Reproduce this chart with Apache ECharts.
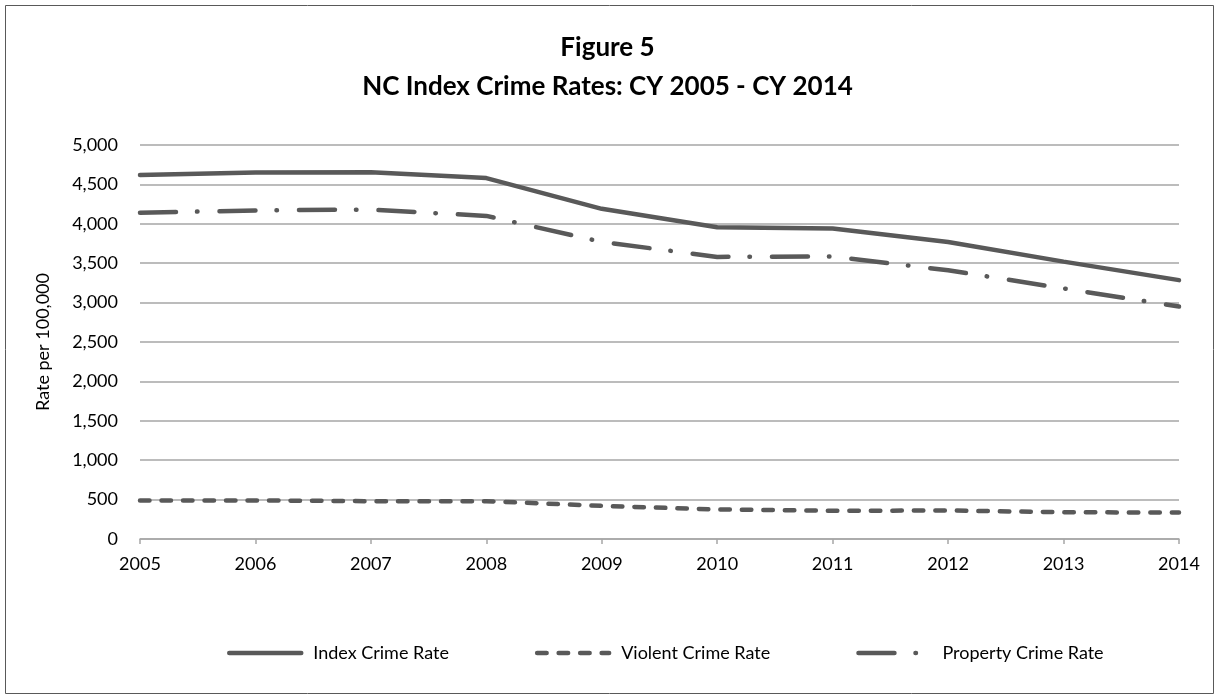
<!DOCTYPE html>
<html>
<head>
<meta charset="utf-8">
<script src="https://cdn.jsdelivr.net/npm/echarts@6/dist/echarts.min.js"></script>
<style>
html,body{margin:0;padding:0;background:#fff;}
#chart{width:1215px;height:695px;}
</style>
</head>
<body>
<div id="chart"></div>
<script>
const years = ['2005','2006','2007','2008','2009','2010','2011','2012','2013','2014'];
const indexCrimeRate = [4620, 4650, 4655, 4580, 4190, 3955, 3940, 3770, 3520, 3285];
const violentCrimeRate = [488, 490, 480, 480, 420, 375, 358, 362, 340, 335];
const propertyCrimeRate = [4140, 4170, 4180, 4100, 3770, 3580, 3585, 3410, 3180, 2950];
const yTicks = [0, 500, 1000, 1500, 2000, 2500, 3000, 3500, 4000, 4500, 5000];

const FONT = 'Lato, "Open Sans", sans-serif';
const LINE = '#595959';
const chart = echarts.init(document.getElementById('chart'));
chart.setOption({
  backgroundColor: '#fff',
  animation: false,
  graphic: [{
    type: 'rect', left: 3, top: 3,
    shape: {width: 1208, height: 688},
    style: {fill: 'none', stroke: '#595959', lineWidth: 1}
  }],
  title: {
    text: 'Figure 5\nNC Index Crime Rates: CY 2005 - CY 2014',
    left: 'center', top: 23,
    textStyle: {fontFamily: FONT, fontWeight: 'bold', fontSize: 26, color: '#000', lineHeight: 39}
  },
  legend: {
    bottom: 28, left: 222,
    itemWidth: 72, itemHeight: 10, itemGap: 86,
    itemStyle: {opacity: 0},
    lineStyle: {width: 4.5, cap: 'round'},
    textStyle: {fontFamily: FONT, fontSize: 18, color: '#000', padding: [0, 0, 0, 7]},
    data: ['Index Crime Rate', 'Violent Crime Rate', 'Property Crime Rate']
  },
  grid: {left: 140, right: 36, top: 145, bottom: 156, containLabel: false},
  xAxis: {
    type: 'category', data: years, boundaryGap: false,
    axisLine: {lineStyle: {color: '#a6a6a6', width: 1.5}},
    axisTick: {show: true, length: 5, lineStyle: {color: '#a6a6a6', width: 1.5}},
    axisLabel: {fontFamily: FONT, fontSize: 18, color: '#000', margin: 16}
  },
  yAxis: {
    type: 'value', min: yTicks[0], max: yTicks[yTicks.length - 1], interval: 500,
    name: 'Rate per 100,000', nameLocation: 'middle', nameGap: 88, nameRotate: 90,
    nameTextStyle: {fontFamily: FONT, fontSize: 18, color: '#000'},
    axisLine: {show: false}, axisTick: {show: false},
    splitLine: {lineStyle: {color: '#a6a6a6', width: 1.5}},
    axisLabel: {fontFamily: FONT, fontSize: 18, color: '#000', margin: 22,
      formatter: v => v.toLocaleString('en-US')}
  },
  series: [
    {name: 'Index Crime Rate', type: 'line', data: indexCrimeRate, symbol: 'none',
      lineStyle: {color: LINE, width: 4.5, cap: 'round'}, itemStyle: {color: LINE}},
    {name: 'Violent Crime Rate', type: 'line', data: violentCrimeRate, symbol: 'none',
      lineStyle: {color: LINE, width: 4.5, type: [9.5, 12], cap: 'round'}, itemStyle: {color: LINE}},
    {name: 'Property Crime Rate', type: 'line', data: propertyCrimeRate, symbol: 'none',
      lineStyle: {color: LINE, width: 4.5, type: [36, 21, 0.5, 22], cap: 'round'}, itemStyle: {color: LINE}}
  ]
});
</script>
</body>
</html>
